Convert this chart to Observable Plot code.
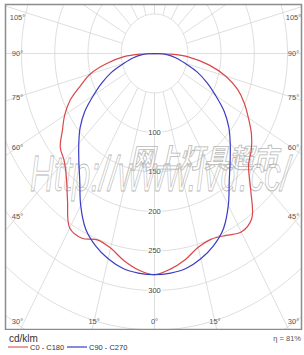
<!DOCTYPE html>
<html><head><meta charset="utf-8">
<script src="https://cdn.jsdelivr.net/npm/d3@7"></script>
<script src="https://cdn.jsdelivr.net/npm/@observablehq/plot@0.6"></script>
<style>
body{margin:0;background:#fff;font-family:"Liberation Sans",Arial,sans-serif;}
#wrap{position:relative;width:304px;height:355px;overflow:hidden;}
#legend{display:block;}
</style></head><body>
<div id="wrap"><div id="chart"></div>
<svg id="legend" width="304" height="25" font-family="Liberation Sans, Arial, sans-serif">
  <text x="9" y="12" font-size="10" fill="#333">cd/klm</text>
  <line x1="8" x2="28" y1="17" y2="17" stroke="#e06a6a" stroke-width="1.3"/>
  <text x="30" y="19.5" font-size="7.5" fill="#333">C0 - C180</text>
  <line x1="67" x2="87" y1="17" y2="17" stroke="#4a4ac8" stroke-width="1.3"/>
  <text x="89" y="19.5" font-size="7.5" fill="#333">C90 - C270</text>
  <text x="301" y="11" font-size="7.5" fill="#555" text-anchor="end">η = 81%</text>
</svg>
</div>
<script>
// gamma angles (degrees from nadir)
const angles = [0,5,10,15,20,25,30,35,40,45,50,55,60,65,70,75,80,85,88,90];
// luminous intensity, cd/klm
const c0   = [280,274,265,254,250,254,261,255,225,200,190,178,163,149,133,111,83,52,25,0];
const c180 = [280,275,266,255,251,258,255,228,206,192,185,169,156,140,118,100,73,46,22,0];
const c90  = [280,279,276,269,259,245,222,196,177,161,146,128,106,87,68,47,33,20,9,0];
const c270 = [280,279,276,269,259,245,222,196,177,161,146,128,106,87,68,47,33,20,9,0];
const rings = [50,100,150,200,250,300,350,400,450];
const ringLabels = [100,150,200,250,300];
const spokeAngles = d3.range(0,360,15);
const sideLabelAngles = [105,90,75,60,45,30];
const bottomLabelAngles = [15,0,15];
const bottomLabelSides = [-1,1,1];

const rad = d => d*Math.PI/180;

function halfPlane(vals, side){
  return angles.map((a,i)=>({X: side*vals[i]*Math.sin(rad(a)), Y: vals[i]*Math.cos(rad(a)), a}));
}
function curve(left, right, name){
  const L = halfPlane(left,-1).reverse();
  const R = halfPlane(right,1).slice(1);
  return L.concat(R).map(d=>({...d, name}));
}
const red = curve(c180, c0, "C0 - C180");
const blue = curve(c270, c90, "C90 - C270");

const ringPts = [];
for (const r of rings) for (let a=0;a<=360;a+=2) ringPts.push({r, X:r*Math.sin(rad(a)), Y:r*Math.cos(rad(a))});
const spokes = spokeAngles.map(a=>({x1:50*Math.sin(rad(a)), y1:50*Math.cos(rad(a)), x2:800*Math.sin(rad(a)), y2:800*Math.cos(rad(a))}));

const angLabels = [];
for (const a of sideLabelAngles){
  let Y = (a === 90) ? 0 : 207/Math.tan(rad(a));
  Y = Math.max(-45.6, Math.min(339, Y));
  angLabels.push({X:-206, Y:Y, t:a+"°"});
  angLabels.push({X:209, Y:Y, t:a+"°"});
}
bottomLabelAngles.forEach((a,i)=>angLabels.push({X:bottomLabelSides[i]*339*Math.tan(rad(a)), Y:339, t:a+"°"}));

const plot = Plot.plot({
  width:304, height:330,
  marginLeft:5, marginRight:3, marginTop:4, marginBottom:1,
  style:{fontFamily:"Liberation Sans, Arial, sans-serif", background:"#fff"},
  x:{type:"linear", domain:[0,100], range:[154,154+66.5], axis:null},
  y:{type:"linear", domain:[0,100], range:[53,53+79], axis:null},
  marks:[
    Plot.line(ringPts,{x:"X", y:"Y", z:"r", stroke:"#d6d6d6", strokeWidth:0.8, clip:"frame"}),
    Plot.link(spokes,{x1:"x1", y1:"y1", x2:"x2", y2:"y2", stroke:"#d6d6d6", strokeWidth:0.8, clip:"frame"}),
    Plot.text(ringLabels,{x:()=>0, y:d=>d, text:d=>String(d), fill:"#444", stroke:"white", strokeWidth:2.5, fontSize:7.5}),
    Plot.text(angLabels,{x:"X", y:"Y", text:"t", fill:"#555", fontSize:7.5}),
    Plot.line(red,{x:"X", y:"Y", stroke:"#d9474b", strokeWidth:1.2, curve:"catmull-rom", clip:"frame"}),
    Plot.line(blue,{x:"X", y:"Y", stroke:"#3c3cc4", strokeWidth:1.2, curve:"catmull-rom", clip:"frame"}),
    Plot.frame({stroke:"#8c8c8c", strokeWidth:1.5})
  ]
});
document.getElementById("chart").appendChild(plot);

// watermark (sits under the curves)
const lineGroups = plot.querySelectorAll('g[aria-label="line"]');
const before = lineGroups.length>1 ? lineGroups[1] : null;
const wm = document.createElementNS("http://www.w3.org/2000/svg","g");
plot.insertBefore(wm, before);
const w = d3.select(wm).attr("fill","none").attr("stroke","#b8b8b8").attr("stroke-width",0.8).attr("text-anchor","start");
w.append("text").attr("x",132).attr("y",168).attr("font-size",27).attr("font-weight","bold")
  .attr("font-family","Noto Sans CJK SC, sans-serif").attr("textLength",148).attr("lengthAdjust","spacingAndGlyphs")
  .attr("transform","skewX(-12) translate(34,0)").text("网上灯具超市");
w.append("text").attr("x",30).attr("y",191).attr("font-size",50).attr("font-style","italic")
  .attr("font-family","Liberation Sans, Arial, sans-serif").attr("textLength",260).attr("lengthAdjust","spacingAndGlyphs")
  .text("Http://www.lvd.cc/");
</script>
</body></html>
